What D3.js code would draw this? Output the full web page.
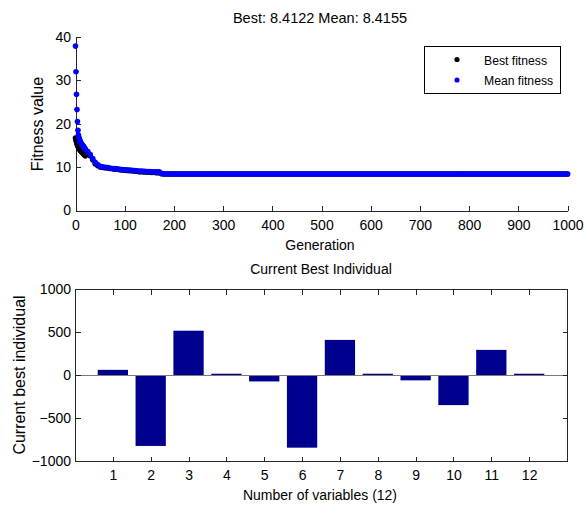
<!DOCTYPE html>
<html><head><meta charset="utf-8">
<script src="https://cdn.jsdelivr.net/npm/d3@7"></script>
<style>
body{margin:0;background:#fff}
svg{display:block;background:#fff}
text{font-family:"Liberation Sans",Arial,Helvetica,sans-serif;fill:#000}
</style>
</head><body>
<svg id="c" width="584" height="506"></svg>
<script>
// ---------- Top chart data ----------
const earlyGens = [0,1,2,3,4,5,6,7,8,9,10,11,12,13,14,15,16,17,18,19,20,
  25,30,35,40,45,50,55,60,65,70,75,80,85,90,95,100,105,110,115,120,125,130,135,140,145,150,155,160,165,170,175,180,185];
const earlyMean = [37.9,32.0,26.8,23.3,20.5,18.5,17.4,16.8,16.4,16.1,15.8,15.6,15.4,15.2,15.1,14.9,14.8,14.6,14.4,14.3,14.1,
  13.6,12.9,12.0,11.1,10.6,10.2,10.1,9.95,9.9,9.8,9.7,9.65,9.6,9.5,9.45,9.4,9.35,9.3,9.25,9.2,9.15,9.1,9.1,9.05,9.0,9.0,8.95,8.95,8.9,8.9,8.6,8.45,8.43];
const earlyBest = [16.7,16.2,15.8,15.4,15.1,14.8,14.6,14.4,14.2,14.0,13.9,13.7,13.6,13.5,13.4,13.3,13.2,13.0,12.9,12.8,12.6,
  13.3,12.6,11.7,10.8,10.4,10.05,9.95,9.85,9.8,9.7,9.6,9.55,9.5,9.4,9.35,9.3,9.25,9.2,9.15,9.1,9.05,8.95,8.95,8.9,8.85,8.85,8.8,8.75,8.7,8.7,8.5,8.42,8.4122];
// plateau, generations 190..1000 every 5
const plateauGens = d3.range(190, 1001, 5);
const plateauMean = [
8.42,8.42,8.42,8.42,8.42,8.42,8.42,8.42,8.42,8.42,
8.42,8.42,8.42,8.42,8.42,8.42,8.42,8.42,8.42,8.42,
8.42,8.42,8.42,8.42,8.42,8.42,8.42,8.42,8.42,8.42,
8.42,8.42,8.42,8.42,8.42,8.42,8.42,8.42,8.42,8.42,
8.42,8.42,8.42,8.42,8.42,8.42,8.42,8.42,8.42,8.42,
8.42,8.42,8.42,8.42,8.42,8.42,8.42,8.42,8.42,8.42,
8.42,8.42,8.42,8.42,8.42,8.42,8.42,8.42,8.42,8.42,
8.42,8.42,8.42,8.42,8.42,8.42,8.42,8.42,8.42,8.42,
8.42,8.42,8.42,8.42,8.42,8.42,8.42,8.42,8.42,8.42,
8.42,8.42,8.42,8.42,8.42,8.42,8.42,8.42,8.42,8.42,
8.42,8.42,8.42,8.42,8.42,8.42,8.42,8.42,8.42,8.42,
8.42,8.42,8.42,8.42,8.42,8.42,8.42,8.42,8.42,8.42,
8.42,8.42,8.42,8.42,8.42,8.42,8.42,8.42,8.42,8.42,
8.42,8.42,8.42,8.42,8.42,8.42,8.42,8.42,8.42,8.42,
8.42,8.42,8.42,8.42,8.42,8.42,8.42,8.42,8.42,8.42,
8.42,8.42,8.42,8.42,8.42,8.42,8.42,8.42,8.42,8.42,
8.42,8.42,8.4155];
const plateauBest = [
8.4122,8.4122,8.4122,8.4122,8.4122,8.4122,8.4122,8.4122,8.4122,8.4122,
8.4122,8.4122,8.4122,8.4122,8.4122,8.4122,8.4122,8.4122,8.4122,8.4122,
8.4122,8.4122,8.4122,8.4122,8.4122,8.4122,8.4122,8.4122,8.4122,8.4122,
8.4122,8.4122,8.4122,8.4122,8.4122,8.4122,8.4122,8.4122,8.4122,8.4122,
8.4122,8.4122,8.4122,8.4122,8.4122,8.4122,8.4122,8.4122,8.4122,8.4122,
8.4122,8.4122,8.4122,8.4122,8.4122,8.4122,8.4122,8.4122,8.4122,8.4122,
8.4122,8.4122,8.4122,8.4122,8.4122,8.4122,8.4122,8.4122,8.4122,8.4122,
8.4122,8.4122,8.4122,8.4122,8.4122,8.4122,8.4122,8.4122,8.4122,8.4122,
8.4122,8.4122,8.4122,8.4122,8.4122,8.4122,8.4122,8.4122,8.4122,8.4122,
8.4122,8.4122,8.4122,8.4122,8.4122,8.4122,8.4122,8.4122,8.4122,8.4122,
8.4122,8.4122,8.4122,8.4122,8.4122,8.4122,8.4122,8.4122,8.4122,8.4122,
8.4122,8.4122,8.4122,8.4122,8.4122,8.4122,8.4122,8.4122,8.4122,8.4122,
8.4122,8.4122,8.4122,8.4122,8.4122,8.4122,8.4122,8.4122,8.4122,8.4122,
8.4122,8.4122,8.4122,8.4122,8.4122,8.4122,8.4122,8.4122,8.4122,8.4122,
8.4122,8.4122,8.4122,8.4122,8.4122,8.4122,8.4122,8.4122,8.4122,8.4122,
8.4122,8.4122,8.4122,8.4122,8.4122,8.4122,8.4122,8.4122,8.4122,8.4122,
8.4122,8.4122,8.4122];
const genTicks = [0,100,200,300,400,500,600,700,800,900,1000];
const fitTicks = [0,10,20,30,40];
const legendLabels = ["Best fitness","Mean fitness"];

// ---------- Bottom chart data ----------
const variables = [1,2,3,4,5,6,7,8,9,10,11,12];
const individual = [60,-825,515,15,-75,-845,408,15,-62,-350,292,15];
const indTicks = [-1000,-500,0,500,1000];

// ---------- Build ----------
const svg = d3.select('#c');
const axisColor = '#262626';

const gens = earlyGens.concat(plateauGens);
const meanVals = earlyMean.concat(plateauMean);
const bestVals = earlyBest.concat(plateauBest);
const n = Math.min(gens.length, meanVals.length, bestVals.length);
const bestData = d3.range(n).map(i => ({g: gens[i], v: bestVals[i]}));
const meanData = d3.range(n).map(i => ({g: gens[i], v: meanVals[i]}));

const x1 = d3.scaleLinear().domain([0,1000]).range([75.5,567.5]);
const y1 = d3.scaleLinear().domain([0,40]).range([210.5,37]);

function styleAxis(g, fs){
  g.selectAll('path.domain').attr('stroke', axisColor).attr('shape-rendering','crispEdges');
  g.selectAll('.tick line').attr('stroke', axisColor).attr('shape-rendering','crispEdges');
  g.selectAll('.tick text').attr('font-size', fs).attr('fill','#000')
    .attr('font-family','"Liberation Sans",Arial,Helvetica,sans-serif');
}

const gx1 = svg.append('g').attr('transform','translate(0,210.5)')
  .call(d3.axisBottom(x1).tickValues(genTicks).tickSizeInner(-5).tickSizeOuter(0).tickPadding(9.5).tickFormat(d3.format('d')));
styleAxis(gx1, 14);
const gy1 = svg.append('g').attr('transform','translate(75.5,0)')
  .call(d3.axisLeft(y1).tickValues(fitTicks).tickSizeInner(-5).tickSizeOuter(0).tickPadding(4.5).tickFormat(d3.format('d')));
styleAxis(gy1, 14);

// dots (drawn over the axes)
svg.append('g').selectAll('circle').data(bestData).join('circle')
  .attr('cx', d => x1(d.g)).attr('cy', d => y1(d.v)).attr('r', 2.8).attr('fill', '#000');
svg.append('g').selectAll('circle').data(meanData).join('circle')
  .attr('cx', d => x1(d.g)).attr('cy', d => y1(d.v)).attr('r', 2.8).attr('fill', '#0000ff');

// titles/labels top
const lastBest = bestVals[n-1], lastMean = meanVals[n-1];
svg.append('text').attr('x',320).attr('y',23).attr('text-anchor','middle').attr('font-size',14.5)
  .text(`Best: ${lastBest.toFixed(4)} Mean: ${lastMean.toFixed(4)}`);
svg.append('text').attr('x',320).attr('y',250).attr('text-anchor','middle').attr('font-size',14).text('Generation');
svg.append('text').attr('transform','translate(43,124) rotate(-90)').attr('text-anchor','middle').attr('font-size',16).text('Fitness value');

// legend
const lg = svg.append('g');
lg.append('rect').attr('x',424.5).attr('y',46.5).attr('width',136).attr('height',47)
  .attr('fill','#fff').attr('stroke','#000').attr('shape-rendering','crispEdges');
const legColors = ['#000','#0000ff'];
legendLabels.forEach((t,i) => {
  lg.append('circle').attr('cx',457).attr('cy',59.5 + i*20.5).attr('r',2.6).attr('fill',legColors[i]);
  lg.append('text').attr('x',484).attr('y',64.5 + i*20.5).attr('font-size',12.2).text(t);
});

// ---------- Bottom chart ----------
const x2 = d3.scaleLinear().domain([0,13]).range([75,567]);
const y2 = d3.scaleLinear().domain([-1000,1000]).range([461,289]);

svg.append('g').selectAll('rect').data(variables).join('rect')
  .attr('x', (d) => x2(d - 0.4))
  .attr('width', x2(0.8) - x2(0))
  .attr('y', (d,i) => y2(Math.max(individual[i],0)))
  .attr('height', (d,i) => Math.abs(y2(individual[i]) - y2(0)))
  .attr('fill', '#00008f');

svg.append('line').attr('x1', x2(0)).attr('x2', x2(13)).attr('y1', y2(0)).attr('y2', y2(0))
  .attr('stroke','#7a7a7a').attr('shape-rendering','crispEdges');

const gb = svg.append('g').attr('transform','translate(0,461.5)')
  .call(d3.axisBottom(x2).tickValues(variables).tickSizeInner(-5).tickSizeOuter(0).tickPadding(8.5));
gb.select('path.domain').remove(); styleAxis(gb, 14);
const gt = svg.append('g').attr('transform','translate(0,289.5)')
  .call(d3.axisTop(x2).tickValues(variables).tickSizeInner(-5).tickSizeOuter(0).tickFormat(''));
gt.select('path.domain').remove(); styleAxis(gt, 14);
const gl = svg.append('g').attr('transform','translate(75.5,0)')
  .call(d3.axisLeft(y2).tickValues(indTicks).tickSizeInner(-5).tickSizeOuter(0).tickPadding(4.5).tickFormat(d3.format('d')));
gl.select('path.domain').remove(); styleAxis(gl, 14);
const gr = svg.append('g').attr('transform','translate(567.5,0)')
  .call(d3.axisRight(y2).tickValues(indTicks).tickSizeInner(-5).tickSizeOuter(0).tickFormat(''));
gr.select('path.domain').remove(); styleAxis(gr, 14);

svg.append('rect').attr('x',75.5).attr('y',289.5).attr('width',492).attr('height',172)
  .attr('fill','none').attr('stroke',axisColor).attr('shape-rendering','crispEdges');

svg.append('text').attr('x',321).attr('y',274).attr('text-anchor','middle').attr('font-size',14).text('Current Best Individual');
svg.append('text').attr('x',320).attr('y',500).attr('text-anchor','middle').attr('font-size',14).text('Number of variables (12)');
svg.append('text').attr('transform','translate(25,375) rotate(-90)').attr('text-anchor','middle').attr('font-size',16).text('Current best individual');
</script>
</body></html>
